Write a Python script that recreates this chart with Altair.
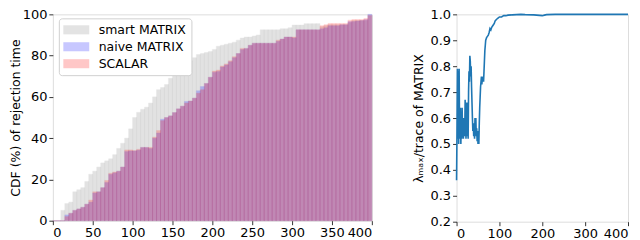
import altair as alt
import pandas as pd

# ---------------- left panel: CDF histograms ----------------
bin_starts = list(range(0, 400, 5))
bin_width = 5

smart = [0, 0, 5, 8.3, 9, 14, 15, 16, 19, 22.5,
         24, 26, 28, 29, 30, 32, 35, 37.5, 40, 44.5,
         50, 52.5, 54, 55, 57, 60, 63.5, 64.5, 66, 69,
         72, 73, 73.5, 74.5, 77.5, 79, 80.5, 81, 81.5, 82,
         83, 84.5, 85, 85.5, 86, 86.5, 87.5, 88.5, 89, 89,
         89.5, 90, 92.5, 92.5, 92.5, 92.5, 92.5, 93, 93, 93.5,
         94.8, 94.8, 94.8, 95.5, 95.5, 95.5, 95.5, 94, 94.5, 95,
         95, 95, 95, 95, 96, 97, 97, 97, 97, 99.5]

scalar = [0, 0, 0, 2, 3.6, 5, 5.7, 6.5, 8, 10,
          14, 14, 16, 19.5, 23, 23.6, 24, 26, 34.3, 34.3,
          34, 34.6, 35.5, 35.5, 35.5, 40.5, 43.7, 48.5, 50, 50.8,
          52.4, 54.2, 55.5, 57, 58, 59.4, 61.8, 63.5, 66.5, 69.5,
          72.5, 73, 75, 76, 77.5, 79.5, 81, 83.5, 83.5, 85,
          86, 86, 86, 86, 86, 86, 87.5, 88, 89, 89,
          89, 92.5, 92.5, 92.5, 92.5, 92.5, 92.5, 94.5, 95, 95.6,
          95.6, 95.6, 95.6, 95.6, 97.2, 97.5, 97.5, 97.5, 98, 99.5]

naive = [0, 0, 0, 2.8, 3.6, 5, 5.7, 6.5, 8, 9,
         13.4, 14, 16, 18.5, 22.5, 23.2, 24, 26, 33.5, 33.8,
         33.8, 34.2, 35.5, 35.5, 35, 40, 42.5, 49.2, 50, 50.8,
         52.4, 54.2, 55.5, 57.8, 58, 59.4, 63, 65, 66.5, 69.5,
         72, 72.3, 74.5, 75.5, 77, 79, 81, 83, 83.5, 85,
         86, 86, 86, 86, 86, 86, 87, 88, 89, 89,
         88.6, 92.5, 92.5, 92.5, 92.5, 92.5, 92.5, 93, 93.5, 94.5,
         94.5, 94.5, 95, 95, 96.5, 96.5, 96.8, 97, 97.5, 100]

series_names = ["smart MATRIX", "naive MATRIX", "SCALAR"]
series_colors = ["#808080", "#0000ff", "#ff0000"]

rows = []
for k, (name, vals) in enumerate(zip(series_names, [smart, naive, scalar])):
    for b, v in zip(bin_starts, vals):
        rows.append({"series": name, "ord": k, "x0": b, "x1": b + bin_width, "v": v})
hist_df = pd.DataFrame(rows)

# ---------------- right panel: ratio line ----------------
ratio_x = [0, 1, 2, 3, 4, 5, 6, 7, 8, 9,
           10, 11, 12, 13, 14, 15, 16, 17, 18, 19,
           20, 21, 22, 23, 24, 25, 26, 27, 28, 29,
           30, 31, 32, 33, 34, 35, 36, 37, 38, 39,
           40, 41, 42, 43, 44, 45, 46, 47, 48, 49,
           50, 51, 52, 53, 54, 55, 56, 57, 58, 59,
           60, 61, 62, 63, 64, 65, 66, 67, 68, 69,
           70, 72, 74, 76, 78, 80, 82, 84, 86, 88,
           90, 93, 96, 100, 105, 110, 115, 120, 130, 140,
           150, 160, 180, 200, 205, 210, 230, 260, 300, 350, 400]
ratio_y = [0.36, 0.55, 0.79, 0.52, 0.78, 0.50, 0.79, 0.55, 0.52, 0.64,
           0.50, 0.58, 0.52, 0.64, 0.53, 0.56, 0.52, 0.60, 0.55, 0.53,
           0.67, 0.60, 0.52, 0.58, 0.66, 0.53, 0.60, 0.52, 0.70, 0.78,
           0.74, 0.84, 0.82, 0.76, 0.80, 0.72, 0.66, 0.60, 0.55, 0.58,
           0.53, 0.57, 0.52, 0.60, 0.56, 0.60, 0.53, 0.56, 0.51, 0.55,
           0.50, 0.54, 0.50, 0.58, 0.64, 0.68, 0.72, 0.74, 0.76, 0.73,
           0.75, 0.74, 0.76, 0.74, 0.78, 0.82, 0.86, 0.88, 0.90, 0.905,
           0.91, 0.915, 0.92, 0.93, 0.945, 0.94, 0.95, 0.955, 0.96, 0.965,
           0.975, 0.98, 0.985, 0.99, 0.99, 0.995, 0.995, 0.997, 0.998, 0.999,
           1.0, 0.999, 0.998, 0.995, 0.997, 0.999, 1.0, 1.0, 1.0, 1.0, 1.0]
ratio_df = pd.DataFrame({"x": ratio_x, "y": ratio_y})

FONT = "DejaVu Sans"

axis_common = dict(
    labelFontSize=13, labelColor="black", labelFont=FONT,
    titleFontSize=12.5, titleColor="black", titleFont=FONT, titleFontWeight="normal",
    tickColor="black", tickSize=4, tickWidth=0.8,
    domain=False, grid=False, labelPadding=2,
)

left = alt.Chart(hist_df).mark_bar(opacity=0.22, strokeWidth=0.4).encode(
    x=alt.X("x0:Q", scale=alt.Scale(domain=[0, 400], nice=False),
            axis=alt.Axis(values=list(range(0, 401, 50)), title=None, **axis_common)),
    x2="x1:Q",
    y=alt.Y("v:Q", stack=None, scale=alt.Scale(domain=[0, 100], nice=False),
            axis=alt.Axis(values=list(range(0, 101, 20)), title="CDF (%) of rejection time",
                          titlePadding=0, **axis_common)),
    y2=alt.datum(0),
    color=alt.Color("series:N", sort=series_names,
                    scale=alt.Scale(domain=series_names, range=series_colors),
                    legend=alt.Legend(
                        title=None, orient="none", legendX=6, legendY=4,
                        fillColor="white", strokeColor="#d0d0d0", cornerRadius=3,
                        padding=5, labelFontSize=12.5, labelFont=FONT, labelColor="black",
                        symbolType="M-2,-0.7H2V0.7H-2Z", symbolSize=169,
                        symbolOpacity=0.22, symbolStrokeWidth=0,
                        symbolOffset=6, labelOffset=16, rowPadding=4)),
    stroke=alt.Stroke("series:N", scale=alt.Scale(domain=series_names, range=series_colors),
                      legend=None),
    order=alt.Order("ord:Q"),
).properties(width=320, height=207)

right = alt.Chart(ratio_df).mark_line(color="#1f77b4", strokeWidth=1.6).encode(
    x=alt.X("x:Q", scale=alt.Scale(domain=[0, 400], nice=False),
            axis=alt.Axis(values=[0, 100, 200, 300, 400], title=None, **axis_common)),
    y=alt.Y("y:Q", scale=alt.Scale(domain=[0.2, 1.0], nice=False),
            axis=alt.Axis(values=[0.2, 0.3, 0.4, 0.5, 0.6, 0.7, 0.8, 0.9, 1.0], format=".1f",
                          title="λₘₐₓ/trace of MATRIX", titlePadding=4, **axis_common)),
).properties(width=172, height=208)

chart = alt.hconcat(left, right, spacing=39).properties(
    padding={"left": 0, "top": -1, "right": 0, "bottom": 0}
).configure_view(stroke="black", strokeWidth=0.9).configure(background="white")

chart.save("out.html", embed_options={"renderer": "svg", "actions": False})
